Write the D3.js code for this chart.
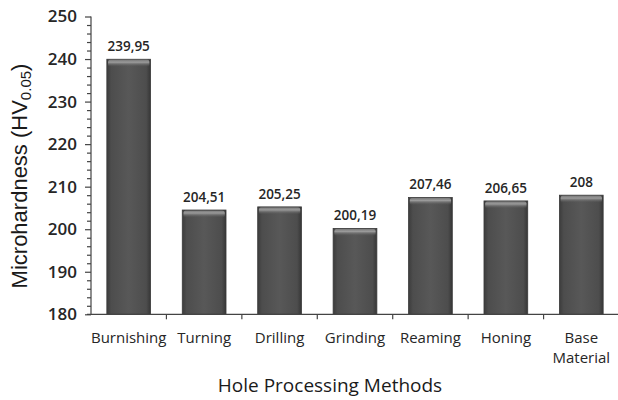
<!DOCTYPE html>
<html>
<head>
<meta charset="utf-8">
<script src="https://cdn.jsdelivr.net/npm/d3@7"></script>
<style>
  html, body { margin: 0; padding: 0; background: #fff; }
  svg { display: block; }
</style>
</head>
<body>
<svg id="chart" width="618" height="400"></svg>
<script>
// Microhardness by hole processing method
const categories = ["Burnishing", "Turning", "Drilling", "Grinding", "Reaming", "Honing", "Base Material"];
const hardness = [239.95, 204.51, 205.25, 200.19, 207.46, 206.65, 208];
const valueLabels = ["239,95", "204,51", "205,25", "200,19", "207,46", "206,65", "208"];
const yTicks = [180, 190, 200, 210, 220, 230, 240, 250];

const svg = d3.select("#chart");
const W = 618, H = 400;
const plot = { left: 91, right: 619, top: 16.5, bottom: 314.3 };

const x = d3.scaleBand()
  .domain(categories)
  .range([plot.left, plot.right])
  .paddingInner(0.42)
  .paddingOuter(0.21);

const y = d3.scaleLinear().domain([180, 250]).range([plot.bottom, plot.top]);

// gradients for the bevelled bars
const defs = svg.append("defs");
const side = defs.append("linearGradient").attr("id", "barSide").attr("x1", 0).attr("x2", 1).attr("y1", 0).attr("y2", 0);
[["0%", "#3c3c3c"], ["10%", "#4d4d4d"], ["50%", "#585858"], ["90%", "#4d4d4d"], ["100%", "#363636"]]
  .forEach(([o, c]) => side.append("stop").attr("offset", o).attr("stop-color", c));
const cap = defs.append("linearGradient").attr("id", "barCap").attr("x1", 0).attr("x2", 0).attr("y1", 0).attr("y2", 1);
[["0%", "#7a7a7a", 1], ["35%", "#9a9a9a", 1], ["100%", "#585858", 0]]
  .forEach(([o, c, op]) => cap.append("stop").attr("offset", o).attr("stop-color", c).attr("stop-opacity", op));

const textColor = "#262626";
const font = "'Open Sans', Lato, sans-serif";

// bars
const bars = svg.append("g").selectAll("g.bar").data(categories).join("g").attr("class", "bar");
bars.append("rect")
  .attr("x", d => x(d))
  .attr("y", (d, i) => y(hardness[i]))
  .attr("width", x.bandwidth())
  .attr("height", (d, i) => y(180) - y(hardness[i]))
  .attr("fill", "url(#barSide)")
  .attr("stroke", "#3a3a3a")
  .attr("stroke-width", 0.8);
bars.append("rect")
  .attr("x", d => x(d) + 1.2)
  .attr("y", (d, i) => y(hardness[i]) + 0.6)
  .attr("width", x.bandwidth() - 2.4)
  .attr("height", 7)
  .attr("rx", 2)
  .attr("fill", "url(#barCap)");

// value labels
svg.append("g").selectAll("text").data(categories).join("text")
  .attr("x", d => x(d) + x.bandwidth() / 2)
  .attr("y", (d, i) => y(hardness[i]) - 8)
  .attr("text-anchor", "middle")
  .attr("font-family", font)
  .attr("font-weight", 600)
  .attr("font-size", 13.5)
  .attr("fill", textColor)
  .text((d, i) => valueLabels[i]);

// y axis with minor ticks every 2 units
const yAxisG = svg.append("g").attr("transform", `translate(${plot.left},0)`);
yAxisG.call(d3.axisLeft(y).tickValues(d3.range(180, 251, 2)).tickSize(4).tickFormat(""));
yAxisG.call(g => g.selectAll(".tick").filter(d => yTicks.includes(d)).select("line").attr("x2", -6));
yAxisG.selectAll(".domain").remove();
yAxisG.append("line").attr("x1", 0).attr("x2", 0).attr("y1", plot.top).attr("y2", plot.bottom).attr("stroke", "#444").attr("stroke-width", 1.2);
yAxisG.selectAll(".tick line").attr("stroke", "#444").attr("stroke-width", 1.2);

const yLab = svg.append("g").attr("transform", `translate(${plot.left},0)`);
yLab.call(d3.axisLeft(y).tickValues(yTicks).tickSize(0).tickPadding(14).tickFormat(d3.format("d")));
yLab.select(".domain").remove();
yLab.selectAll("text").attr("font-family", font).attr("font-size", 17).attr("font-weight", 600).attr("fill", textColor);

// x axis: ticks sit on category boundaries
const xAxisG = svg.append("g").attr("transform", `translate(0,${plot.bottom})`);
xAxisG.append("line").attr("x1", plot.left - 4).attr("x2", W).attr("y1", 0).attr("y2", 0).attr("stroke", "#444").attr("stroke-width", 1.2);
const step = x.step();
xAxisG.selectAll("line.tk").data(categories.slice(1)).join("line").attr("class", "tk")
  .attr("x1", d => x(d) - (step - x.bandwidth()) / 2)
  .attr("x2", d => x(d) - (step - x.bandwidth()) / 2)
  .attr("y1", 0).attr("y2", 5).attr("stroke", "#444").attr("stroke-width", 1.2);

// category labels (wrapped on spaces)
const xLabels = svg.append("g").selectAll("text").data(categories).join("text")
  .attr("x", d => x(d) + x.bandwidth() / 2)
  .attr("y", 343)
  .attr("text-anchor", "middle")
  .attr("font-family", font)
  .attr("font-size", 15)
  .attr("fill", textColor);
xLabels.each(function(d) {
  const words = d.split(" ");
  const t = d3.select(this);
  words.forEach((w, i) => t.append("tspan").attr("x", x(d) + x.bandwidth() / 2).attr("dy", i === 0 ? 0 : 20).text(w));
});

// axis titles
svg.append("text")
  .attr("x", 330).attr("y", 392)
  .attr("text-anchor", "middle")
  .attr("font-family", font)
  .attr("font-size", 19)
  .attr("fill", "#1a1a1a")
  .text("Hole Processing Methods");

const yt = svg.append("text")
  .attr("transform", "translate(27,176) rotate(-90)")
  .attr("text-anchor", "middle")
  .attr("font-family", "'Liberation Sans', Arial, sans-serif")
  .attr("font-size", 22)
  .attr("fill", "#1a1a1a");
yt.append("tspan").text("Microhardness (HV");
yt.append("tspan").attr("font-size", 15).attr("dy", 4).text("0.05");
yt.append("tspan").attr("dy", -4).text(")");
</script>
</body>
</html>
